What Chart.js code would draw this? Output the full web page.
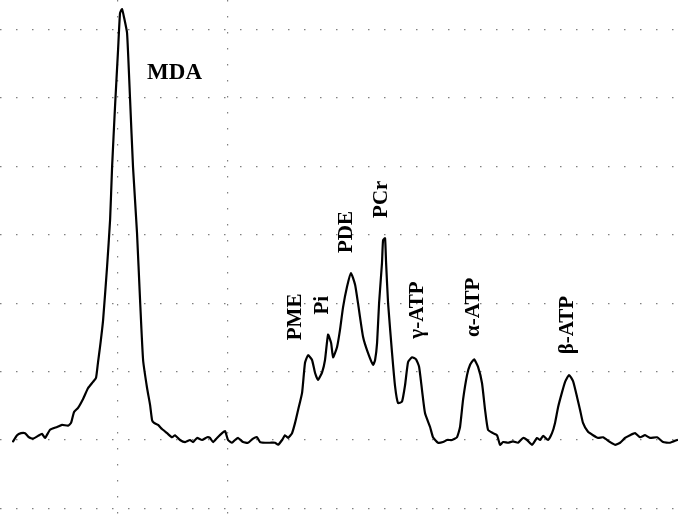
<!DOCTYPE html>
<html>
<head>
<meta charset="utf-8">
<title>31P spectrum</title>
<script src="https://cdn.jsdelivr.net/npm/chart.js@4"></script>
<style>
  html, body { margin: 0; padding: 0; background: #fff; }
  canvas { display: block; }
</style>
</head>
<body>
<canvas id="spectrum" width="678" height="519"></canvas>
<script>
// chemical shift (ppm) of each sample of the trace, left to right
const shiftPpm = [
  31.62, 31.28, 30.94, 30.60, 30.26, 29.91, 29.49, 29.15, 28.89, 28.46,
  27.86, 27.44, 26.92, 26.67, 26.41, 26.07, 25.64, 25.21, 24.79, 24.53,
  24.36, 24.19, 23.93, 23.59, 23.33, 23.16, 22.91, 22.65, 22.48, 22.31,
  22.14, 21.88, 21.62, 21.37, 21.03, 20.77, 20.51, 20.17, 19.91, 19.74,
  19.57, 19.23, 18.89, 18.46, 18.03, 17.78, 17.35, 16.92, 16.50, 16.24,
  15.90, 15.47, 15.04, 14.79, 14.53, 14.19, 13.76, 13.50, 13.25, 12.91,
  12.65, 12.39, 11.97, 11.54, 11.11, 10.77, 10.51, 10.09, 9.66, 9.23,
  8.97, 8.63, 8.38, 8.12, 7.78, 7.52, 7.26, 6.92, 6.67, 6.41,
  6.07, 5.81, 5.56, 5.21, 4.96, 4.70, 4.44, 4.27, 3.93, 3.68,
  3.42, 3.08, 2.74, 2.39, 2.14, 1.71, 1.28, 0.85, 0.68, 0.51,
  0.34, 0.09, 0.00, -0.17, -0.26, -0.43, -0.77, -1.03, -1.28, -1.62,
  -1.88, -2.14, -2.48, -2.82, -3.08, -3.33, -3.59, -4.02, -4.27, -4.70,
  -5.13, -5.47, -5.90, -6.32, -6.58, -6.84, -7.18, -7.44, -7.78, -8.12,
  -8.46, -8.72, -8.97, -9.40, -9.74, -10.00, -10.26, -10.68, -11.11, -11.54,
  -11.97, -12.31, -12.74, -13.16, -13.42, -13.68, -14.10, -14.44, -14.70, -14.96,
  -15.30, -15.56, -15.90, -16.24, -16.58, -16.84, -17.09, -17.52, -17.95, -18.38,
  -18.80, -19.40, -19.83, -20.26, -20.68, -21.11, -21.54, -21.97, -22.39, -22.82,
  -23.42, -23.93, -24.53, -25.13
];

// signal intensity (arbitrary units) at each shift above
const signal = [
  -0.2, 0.7, 1.0, 1.0, 0.4, 0.2, 0.6, 0.9, 0.3, 1.5,
  1.9, 2.2, 2.1, 2.5, 4.1, 4.7, 6.0, 7.6, 8.5, 9.1,
  11.4, 13.6, 17.5, 25.3, 32.2, 39.9, 48.7, 57.0, 62.4, 63.0,
  61.8, 59.5, 49.7, 39.9, 30.3, 20.5, 11.7, 7.6, 5.1, 2.9,
  2.5, 2.2, 1.6, 1.0, 0.4, 0.7, 0.0, -0.3, 0.0, -0.3,
  0.3, 0.0, 0.4, 0.3, -0.3, 0.3, 1.0, 1.3, 0.0, -0.4,
  0.0, 0.3, -0.3, -0.4, 0.2, 0.4, -0.3, -0.4, -0.4, -0.4,
  -0.7, 0.0, 0.7, 0.3, 1.0, 2.5, 4.4, 6.9, 11.3, 12.4,
  11.7, 9.8, 8.8, 9.9, 11.7, 15.4, 14.2, 12.1, 13.6, 16.1,
  19.4, 22.4, 24.4, 22.7, 20.0, 15.1, 12.7, 11.0, 11.7, 14.2,
  20.0, 25.9, 29.2, 29.5, 25.9, 20.0, 12.7, 7.8, 5.4, 5.6,
  8.0, 11.4, 12.1, 11.8, 10.7, 7.3, 3.9, 1.9, 0.4, -0.4,
  -0.3, 0.0, 0.0, 0.4, 1.9, 5.9, 9.5, 11.0, 11.8, 10.7,
  8.3, 4.4, 1.5, 1.0, 0.7, -0.7, -0.3, -0.4, -0.2, -0.4,
  0.3, 0.0, -0.7, 0.3, 0.0, 0.6, 0.0, 1.0, 2.5, 4.8,
  7.0, 8.5, 9.5, 8.6, 6.3, 4.4, 2.5, 1.2, 0.7, 0.3,
  0.4, -0.3, -0.7, -0.4, 0.3, 0.7, 1.0, 0.4, 0.7, 0.3,
  0.4, -0.3, -0.4, 0.0
];

// peak assignments and where each name sits (shift, intensity)
const peakNames  = ['MDA', 'PME', 'Pi', 'PDE', 'PCr', 'γ-ATP', 'α-ATP', 'β-ATP'];
const labelPpm   = [17.82, 7.44, 5.21, 3.08, 0.09, -2.91, -7.78, -15.73];
const labelLevel = [53.6, 18.0, 19.7, 30.4, 35.2, 19.0, 19.4, 16.8];

// dotted grid positions
const gridLevels = [-10, 0, 10, 20, 30, 40, 50, 60];
const gridShifts = [22.7, 13.3];

const trace = shiftPpm.map((p, i) => ({ x: p, y: signal[i] }));

const peakLabels = {
  id: 'peakLabels',
  afterDatasetsDraw(chart) {
    const { ctx, scales: { x, y } } = chart;
    ctx.save();
    ctx.fillStyle = '#000';
    ctx.textAlign = 'center';
    ctx.textBaseline = 'middle';
    peakNames.forEach((name, i) => {
      const px = x.getPixelForValue(labelPpm[i]);
      const py = y.getPixelForValue(labelLevel[i]);
      ctx.save();
      ctx.translate(px, py);
      if (i === 0) {
        ctx.font = 'bold 23px "Liberation Serif", "DejaVu Serif", serif';
      } else {
        ctx.rotate(-Math.PI / 2);
        ctx.font = 'bold 21px "Liberation Serif", "DejaVu Serif", serif';
      }
      ctx.fillText(name, 0, 0);
      ctx.restore();
    });
    ctx.restore();
  }
};

new Chart(document.getElementById('spectrum'), {
  type: 'line',
  data: {
    datasets: [{
      data: trace,
      borderColor: '#000',
      borderWidth: 2.2,
      pointRadius: 0,
      tension: 0.15,
      borderJoinStyle: 'round',
      borderCapStyle: 'round'
    }]
  },
  plugins: [peakLabels],
  options: {
    responsive: false,
    animation: false,
    devicePixelRatio: 1,
    layout: { padding: 0 },
    plugins: {
      legend: { display: false },
      tooltip: { enabled: false }
    },
    scales: {
      x: {
        type: 'linear',
        reverse: true,
        min: -25.21,
        max: 32.74,
        afterBuildTicks: (axis) => { axis.ticks = gridShifts.map(v => ({ value: v })); },
        ticks: { display: false },
        border: { display: false, dash: [1.5, 14.5] },
        grid: {
          drawTicks: false,
          color: 'rgba(0,0,0,0.5)',
          lineWidth: 1.2
        }
      },
      y: {
        min: -11.55,
        max: 64.33,
        afterBuildTicks: (axis) => { axis.ticks = gridLevels.map(v => ({ value: v })); },
        ticks: { display: false },
        border: { display: false, dash: [1.5, 14.5] },
        grid: {
          drawTicks: false,
          color: 'rgba(0,0,0,0.5)',
          lineWidth: 1.2
        }
      }
    }
  }
});
</script>
</body>
</html>
